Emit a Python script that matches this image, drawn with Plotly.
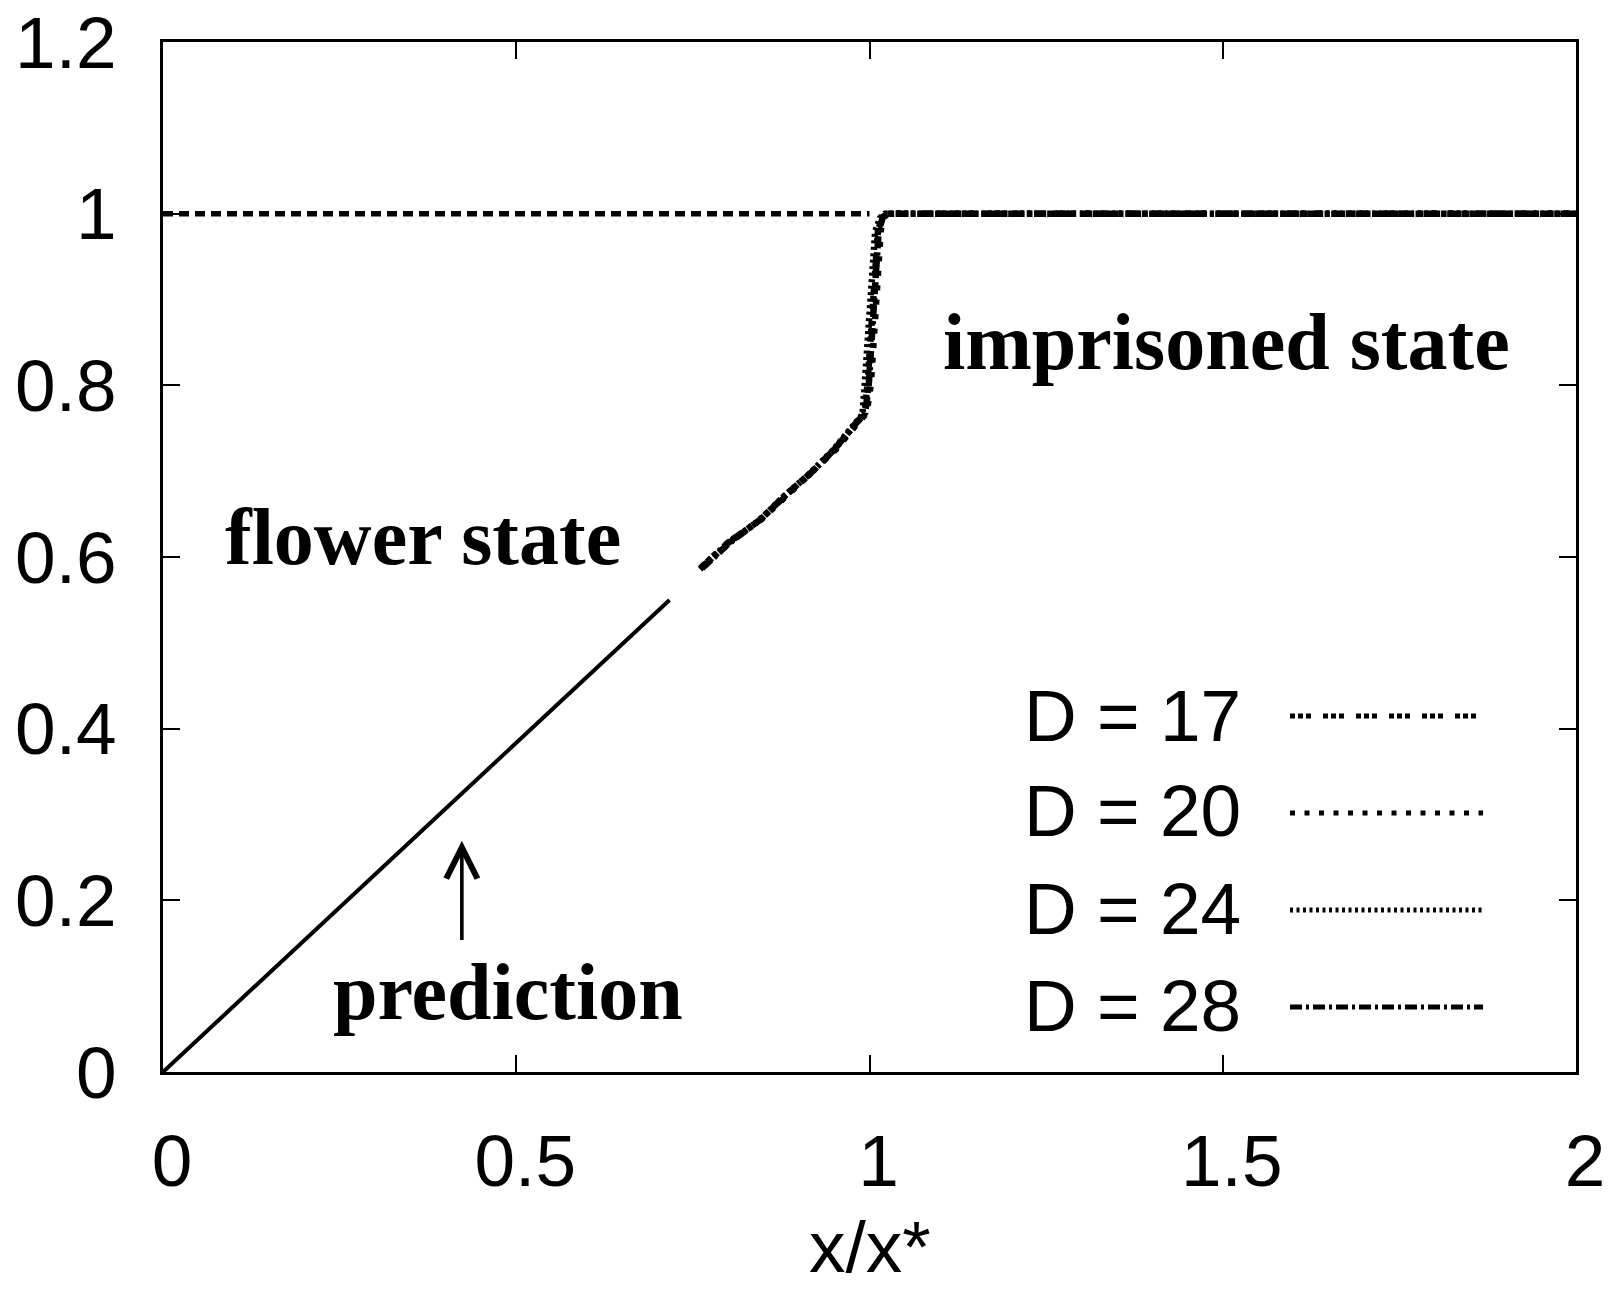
import plotly.graph_objects as go

# ---------------- data ----------------
x_ticks = [0, 0.5, 1, 1.5, 2]
x_tick_labels = ["0", "0.5", "1", "1.5", "2"]
y_ticks = [0, 0.2, 0.4, 0.6, 0.8, 1.0, 1.2]
y_tick_labels = ["0", "0.2", "0.4", "0.6", "0.8", "1", "1.2"]

pred_x = [0.0, 0.717]
pred_y = [0.0, 0.550]

upper_x = [0.0, 1.0]
upper_y = [1.0, 1.0]

d17_x = [0.762, 0.800, 0.845, 0.880, 0.916, 0.950, 0.977, 0.993, 0.997, 1.002, 1.007, 1.012, 1.018, 1.025, 2.0]
d17_y = [0.588, 0.617, 0.643, 0.671, 0.697, 0.725, 0.752, 0.767, 0.800, 0.865, 0.925, 0.980, 0.996, 1.000, 1.000]
d20_x = [0.765, 0.802, 0.847, 0.882, 0.918, 0.952, 0.979, 0.996, 1.002, 1.007, 1.011, 1.016, 1.021, 1.028, 2.0]
d20_y = [0.589, 0.618, 0.644, 0.671, 0.698, 0.725, 0.752, 0.768, 0.802, 0.866, 0.926, 0.981, 0.997, 1.000, 1.000]
d24_x = [0.760, 0.798, 0.843, 0.878, 0.914, 0.948, 0.975, 0.990, 0.993, 0.998, 1.003, 1.008, 1.015, 1.022, 2.0]
d24_y = [0.586, 0.615, 0.642, 0.670, 0.696, 0.724, 0.751, 0.766, 0.798, 0.863, 0.923, 0.979, 0.995, 1.000, 1.000]
d28_x = [0.763, 0.801, 0.846, 0.881, 0.917, 0.951, 0.978, 0.994, 0.999, 1.004, 1.009, 1.013, 1.019, 1.026, 2.0]
d28_y = [0.587, 0.616, 0.644, 0.672, 0.698, 0.726, 0.753, 0.768, 0.801, 0.864, 0.924, 0.980, 0.996, 1.000, 1.000]

series_names = ["D = 17", "D = 20", "D = 24", "D = 28"]
series_x = [d17_x, d20_x, d24_x, d28_x]
series_y = [d17_y, d20_y, d24_y, d28_y]
series_dash = ["5px,3px,5px,3px,5px,12px", "5px,9.5px", "3px,3.5px", "12px,4px,3px,4px"]

x_title = "x/x*"

# ---------------- figure ----------------
fig = go.Figure()

fig.add_trace(go.Scatter(x=pred_x, y=pred_y, mode="lines", name="prediction",
                         line=dict(color="black", width=4), showlegend=False))
fig.add_trace(go.Scatter(x=upper_x, y=upper_y, mode="lines", name="D = 20 (upper)",
                         line=dict(color="black", width=5.5, dash="10px,6px"), showlegend=False))
for nm, xs, ys, ds in zip(series_names, series_x, series_y, series_dash):
    fig.add_trace(go.Scatter(x=xs, y=ys, mode="lines", name=nm,
                             line=dict(color="black", width=6.5, dash=ds), showlegend=False))

sans = "Liberation Sans, Arial, sans-serif"
serif = "Liberation Serif, Times New Roman, serif"
FS = 73

axis_common = dict(showline=True, linewidth=2.7, linecolor="black", mirror="ticks",
                   ticks="inside", ticklen=17, tickwidth=2, tickcolor="black",
                   showgrid=False, zeroline=False, automargin=False,
                   tickfont=dict(family=sans, size=FS, color="black"))

fig.update_layout(
    template="none",
    width=1610, height=1291,
    margin=dict(l=163, r=34, t=42, b=219, pad=0, autoexpand=False),
    paper_bgcolor="white", plot_bgcolor="white",
    showlegend=False,
    xaxis=dict(range=[0, 2], tickvals=x_ticks, ticktext=x_tick_labels,
               ticklabelstandoff=24, ticklabelshift=9, **axis_common),
    yaxis=dict(range=[0, 1.2], tickvals=y_ticks, ticktext=y_tick_labels,
               ticklabelstandoff=29, **axis_common),
)

# x-axis title
fig.add_annotation(x=0.5, y=-0.211, xref="paper", yref="paper", xanchor="center", yanchor="bottom",
                   text=x_title, showarrow=False,
                   font=dict(family=sans, size=FS, color="black"))

# text annotations inside the plot
fig.add_annotation(x=0.085, y=0.623, xref="x", yref="y", xanchor="left", yanchor="middle",
                   text="<b>flower state</b>", showarrow=False,
                   font=dict(family=serif, size=80, color="black"))
fig.add_annotation(x=1.101, y=0.850, xref="x", yref="y", xanchor="left", yanchor="middle",
                   text="<b>imprisoned state</b>", showarrow=False,
                   font=dict(family=serif, size=80, color="black"))
fig.add_annotation(x=0.489, y=0.093, xref="x", yref="y", xanchor="center", yanchor="middle",
                   text="<b>prediction</b>", showarrow=False,
                   font=dict(family=serif, size=80, color="black"))
# arrow
fig.add_annotation(x=0.423, y=0.2695, ax=0.423, ay=0.152, xref="x", yref="y",
                   axref="x", ayref="y", text="", showarrow=True,
                   arrowhead=5, arrowsize=1.7, arrowwidth=3.6, arrowcolor="black")

# manual legend: label on the left, line sample on the right
leg_text_x = 0.7643
leg_line_x0, leg_line_x1 = 0.7976, 0.9342
leg_text_y = [0.3466, 0.2534, 0.1592, 0.0650]
leg_line_y = [0.3456, 0.2515, 0.1573, 0.0631]
for nm, ds, ty, ly in zip(series_names, series_dash, leg_text_y, leg_line_y):
    fig.add_annotation(x=leg_text_x, y=ty, xref="paper", yref="paper",
                       xanchor="right", yanchor="middle", text=nm, showarrow=False,
                       font=dict(family=sans, size=FS, color="black"))
    fig.add_shape(type="line", xref="paper", yref="paper",
                  x0=leg_line_x0, x1=leg_line_x1, y0=ly, y1=ly,
                  line=dict(color="black", width=5, dash=ds))

fig.write_html("out.html", config={"displayModeBar": False},
               post_script="document.body.style.margin='0';document.body.style.overflow='hidden';")
